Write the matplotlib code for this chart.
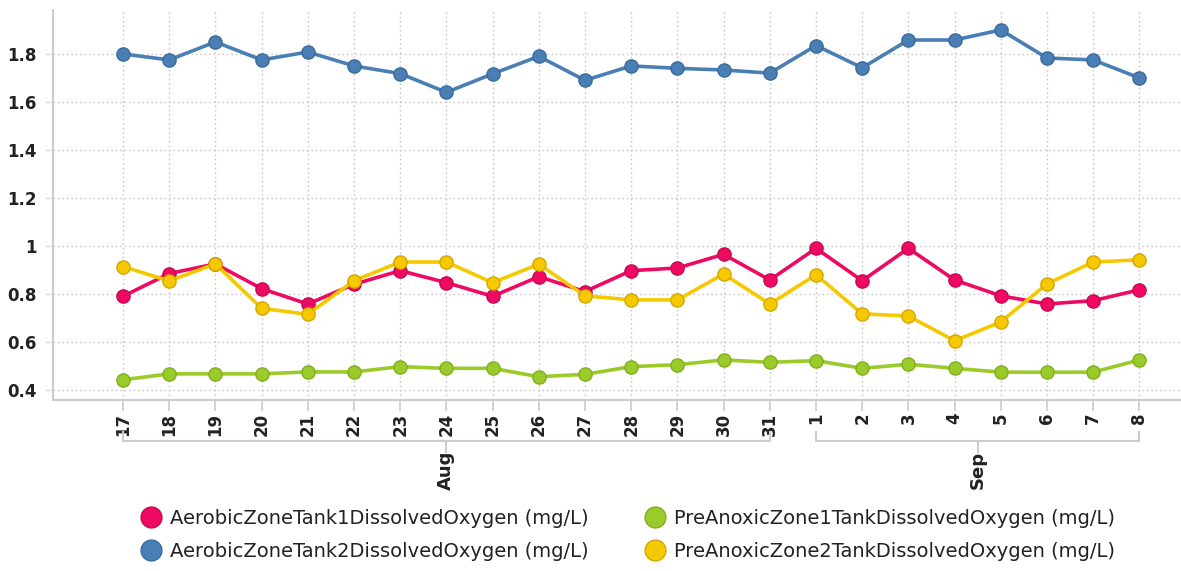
import matplotlib
matplotlib.use("Agg")
import matplotlib.pyplot as plt
from matplotlib.lines import Line2D

days = ['17', '18', '19', '20', '21', '22', '23', '24', '25', '26', '27', '28', '29', '30', '31',
        '1', '2', '3', '4', '5', '6', '7', '8']
months = ['Aug', 'Sep']
month_first = [0, 15]   # index of first day in each month
month_last = [14, 22]

tank1 = [0.79, 0.885, 0.925, 0.822, 0.758, 0.84, 0.897, 0.847, 0.79, 0.872, 0.81, 0.897,
         0.908, 0.965, 0.858, 0.99, 0.855, 0.99, 0.858, 0.792, 0.758, 0.772, 0.817]
tank2 = [1.80, 1.775, 1.85, 1.775, 1.808, 1.75, 1.718, 1.64, 1.717, 1.79, 1.69, 1.75,
         1.74, 1.733, 1.72, 1.835, 1.742, 1.858, 1.858, 1.90, 1.783, 1.775, 1.70]
zone1 = [0.442, 0.467, 0.467, 0.467, 0.475, 0.475, 0.497, 0.49, 0.49, 0.455, 0.465, 0.497,
         0.505, 0.525, 0.515, 0.522, 0.49, 0.507, 0.49, 0.474, 0.474, 0.474, 0.525]
zone2 = [0.914, 0.854, 0.925, 0.74, 0.715, 0.855, 0.933, 0.933, 0.847, 0.924, 0.792, 0.775,
         0.775, 0.883, 0.758, 0.88, 0.717, 0.708, 0.605, 0.683, 0.842, 0.933, 0.942]

names = ['AerobicZoneTank1DissolvedOxygen (mg/L)', 'AerobicZoneTank2DissolvedOxygen (mg/L)',
         'PreAnoxicZone1TankDissolvedOxygen (mg/L)', 'PreAnoxicZone2TankDissolvedOxygen (mg/L)']
colors = ['#EE0A63', '#4A7FB6', '#9BCB2B', '#F5C800']
edges = ['#C8084F', '#3A6A9C', '#80AE1E', '#D4A800']

fig = plt.figure(figsize=(11.81, 5.71), dpi=100)
ax = fig.add_axes([53 / 1181, 171 / 571, 1 - 53 / 1181, 390 / 571])

x = list(range(len(days)))
for ys, c, e in zip([tank1, tank2, zone1, zone2], colors, edges):
    ax.plot(x, ys, color=c, lw=2.6, marker='o', ms=9.5, mfc=c, mec=e, mew=1, zorder=3)

ax.set_xlim(-1.515, 22.9)
ax.set_ylim(0.358, 1.983)
ax.set_yticks([0.4, 0.6, 0.8, 1.0, 1.2, 1.4, 1.6, 1.8])
ax.set_yticklabels(['0.4', '0.6', '0.8', '1', '1.2', '1.4', '1.6', '1.8'],
                   fontsize=12, fontweight='bold', color='#222222')
ax.set_xticks(x)
ax.set_xticklabels(days, rotation=90, fontsize=12, fontweight='bold', color='#222222')
ax.tick_params(axis='x', length=8, color='#cccccc', width=1.2, pad=1)
ax.tick_params(axis='y', length=6, color='#dddddd', width=1, pad=5.5)
ax.grid(True, linestyle=(0, (1.2, 2)), color='#c8c8c8', lw=1)
ax.set_axisbelow(True)
for s in ['top', 'right']:
    ax.spines[s].set_visible(False)
for s in ['left', 'bottom']:
    ax.spines[s].set_color('#cccccc')
    ax.spines[s].set_linewidth(1.5)

# month brackets under the day labels
tr = ax.get_xaxis_transform()
yb = -0.105
for m, a, b in zip(months, month_first, month_last):
    mid = (a + b) / 2
    ax.plot([a, a, b, b], [yb + 0.022, yb, yb, yb + 0.022], transform=tr, clip_on=False,
            color='#cccccc', lw=1.5)
    ax.plot([mid, mid], [yb, yb - 0.028], transform=tr, clip_on=False, color='#cccccc', lw=1.5)
    ax.text(mid, yb - 0.025, m, transform=tr, rotation=90, ha='center', va='top',
            fontsize=13, fontweight='bold', color='#222222')

handles = [Line2D([], [], ls='none', marker='o', ms=15, mfc=c, mec=e, mew=1)
           for c, e in zip(colors, edges)]
for i, x0 in enumerate([141 / 1181, 645 / 1181]):
    leg = fig.legend(handles[2 * i:2 * i + 2], names[2 * i:2 * i + 2], loc='center left',
                     bbox_to_anchor=(x0, 36 / 571), frameon=False,
                     prop={'family': 'DejaVu Sans', 'size': 14},
                     handlelength=1, handletextpad=0.48, labelspacing=0.72, borderpad=0,
                     borderaxespad=0)
    for t in leg.get_texts():
        t.set_color('#222222')

fig.savefig('out.png', dpi=100)
